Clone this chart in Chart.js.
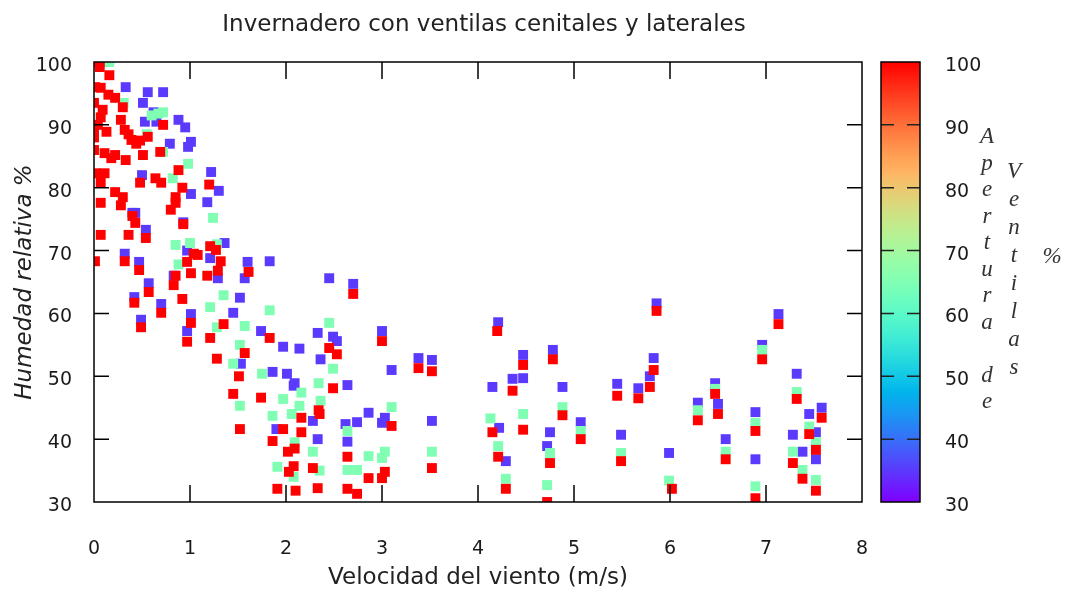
<!DOCTYPE html>
<html>
<head>
<meta charset="utf-8">
<script src="https://cdn.jsdelivr.net/npm/chart.js@4.4.1/dist/chart.umd.min.js"></script>
<style>
  body { margin: 0; background: #fff; }
  canvas { display: block; }
</style>
</head>
<body>
<canvas id="chart-humedad" width="1069" height="594"></canvas>
<script>
// datos: [velocidad m/s, humedad %]
const rojo100 = [
  [0,100],[0.06,99.2],[0.02,100],[0.16,97.9],[0.01,96],[0.07,95.9],[0,93.5],[0.15,94.8],[0.22,94.3],[0.3,92.8],
  [0.09,92.4],[0,89.5],[0.07,91.2],[0.04,90],[0,88],[0.13,88.9],[0.28,90.8],[0.32,89.2],[0.36,88.5],[0.39,87.6],
  [0.44,87],[0.48,87.5],[0.56,88.1],[0,86],[0.11,85.5],[0.18,84.7],[0.22,85.2],[0.33,84.4],[0.51,85.2],[0.69,85.7],
  [0.72,90],[0.88,82.8],[0.02,82.3],[0.11,82.3],[0.07,80.9],[0.22,79.3],[0.48,80.8],[0.64,81.5],[0.7,80.8],[0.92,80],
  [0.3,78.5],[0.85,78.5],[0.07,77.6],[0.28,77.2],[0.8,76.5],[0.85,77.6],[0.43,74.4],[0.4,75.5],[0.07,72.5],[0.36,72.5],
  [0.54,72],[0.93,74.2],[0.01,68.3],[0.32,68.3],[0.47,66.9],[0.57,63.4],[0.97,68.2],[1.01,66.4],[0.85,66],[0.83,64.5],
  [0.92,62.3],[0.42,61.7],[0.7,60.1],[0.49,57.8],[1.01,58.5],[0.97,55.5],[1.04,69.5],
  [1.2,80.5],[1.21,70.7],[1.27,70.1],[1.08,69.3],[1.32,68.3],[1.18,66],[1.29,66.8],[1.61,66.6],[1.35,58.3],[1.21,56.1],
  [1.83,56.1],[1.28,52.8],[1.57,53.7],[1.51,50],[1.45,47.2],[1.74,46.6],[1.52,41.6],[1.97,41.6],[1.86,39.7],[2.02,38],
  [2.09,38.5],[2.03,34.8],[2.08,35.7],[1.91,32.1],[2.1,31.8],[2.16,41.1],
  [2.7,63.1],[3.0,55.6],[3.38,51.3],[3.52,50.8],[2.45,54.5],[2.53,53.5],[2.49,48.1],[2.16,43.4],[2.34,44.6],[2.35,44],
  [3.1,42.1],[2.28,35.4],[2.64,37.2],[2.33,32.2],[2.64,32.1],[2.74,31.3],[2.86,33.8],[3.0,33.8],[3.03,34.8],[3.52,35.4],
  [4.2,57.2],[4.47,51.8],[4.36,47.7],[4.15,41.1],[4.21,37.2],[4.29,32.1],[4.47,41.5],[4.78,52.7],[4.75,36.2],[4.72,30],
  [4.88,43.8],[5.07,40],[5.45,46.9],[5.49,36.5],[5.67,46.5],[5.79,48.3],[5.83,51],[5.86,60.4],[6.02,32.1],[6.29,43],
  [6.47,47.2],[6.5,44],[6.58,36.8],[6.89,41.3],[6.89,30.6],[6.96,52.7],[7.13,58.3],[7.32,46.4],[7.28,36.2],[7.38,33.7],
  [7.45,40.8],[7.52,38.3],[7.52,31.8],[7.58,43.4]
];
const verde65 = [
  [0.16,100],[0.72,92],[0.6,91.5],[0.67,91.8],[0.55,88.5],[0.98,83.8],[0.82,81.5],[0.72,85.7],[0.31,93.5],[0.85,70.9],
  [1.0,71.2],[0.88,67.8],[1.24,75.2],[1.28,71],[1.35,62.9],[1.21,61],[1.83,60.5],[1.57,58],[1.28,57.8],[1.52,55],
  [1.45,52],[1.75,50.4],[1.52,45.3],[1.97,46.4],[1.86,43.7],[1.91,35.6],[2.08,34],[2.45,58.5],[2.49,51.2],[2.34,48.9],
  [2.16,47.4],[2.14,45.3],[2.36,46.1],[2.06,44],[2.09,39.5],[2.28,38],[2.35,35],[2.64,35.1],[2.74,35.1],[2.86,37.3],
  [3.0,37],[3.03,38],[3.1,45.1],[3.52,38],[2.64,41.3],[4.13,43.3],[4.21,38.9],[4.29,33.7],[4.47,44],[4.88,45.1],
  [4.75,37.8],[4.72,32.7],[5.07,41.3],[5.49,37.8],[5.99,33.4],[6.29,44.6],[6.47,48],[6.58,38],[6.89,42.6],[6.89,32.5],
  [6.96,54.2],[7.32,47.5],[7.28,38],[7.38,35.1],[7.45,42],[7.52,39.5],[7.52,33.5]
];
const morado35 = [
  [0.1,100],[0.33,96],[0.56,95.2],[0.72,95.2],[0.51,93.5],[0.62,92],[0.88,90.8],[0.95,89.6],[0.53,90.5],[0.65,90.5],
  [1.01,87.3],[0.79,87],[0.98,86.5],[0.5,82],[1.01,79],[0.4,76],[0.43,76],[0.54,73.3],[0.32,69.5],[0.47,68.2],
  [0.57,64.8],[0.42,62.6],[0.7,61.5],[0.49,59],[1.01,59.9],[0.97,57.2],[0.97,70],[0.83,66],[0.93,74.5],[1.22,82.5],
  [1.3,79.5],[1.18,77.7],[1.36,71.2],[1.21,68.8],[1.29,65.6],[1.6,68.2],[1.83,68.3],[1.57,65.6],[1.52,62.5],[1.45,60.1],
  [1.74,57.2],[1.97,54.7],[2.14,54.4],[1.53,52],[1.86,50.7],[2.01,50.4],[2.08,48.5],[1.9,41.6],
  [2.45,65.6],[2.7,64.7],[3.0,57.2],[3.38,52.9],[3.52,52.6],[2.33,56.9],[2.49,56.3],[2.53,55.6],[2.36,52.7],[2.09,48.9],
  [2.64,48.6],[3.1,51],[2.86,44.2],[2.74,42.7],[2.62,42.4],[2.28,42.9],[3.0,42.6],[3.03,43.4],[3.52,42.9],[2.33,40],
  [2.64,39.6],
  [4.21,58.6],[4.47,53.4],[4.36,49.6],[4.47,49.7],[4.15,48.3],[4.22,41.8],[4.29,36.5],[4.78,54.2],[4.88,48.3],[4.75,41.1],
  [4.72,38.9],[5.07,42.7],[5.45,48.8],[5.49,40.7],[5.67,48.1],[5.79,50],[5.83,52.9],[5.86,61.6],[5.99,37.8],[6.29,45.8],
  [6.47,48.9],[6.5,45.6],[6.58,40],[6.89,44.3],[6.89,36.8],[6.96,55],[7.13,59.9],[7.32,50.4],[7.28,40.7],[7.38,38],
  [7.45,44],[7.52,41.1],[7.52,36.8],[7.58,45]
];
const aperturas = [100, 65, 35];   // % de apertura de cada serie
const ticksVelocidad = [0, 1, 2, 3, 4, 5, 6, 7, 8];
const ticksHumedad = [30, 40, 50, 60, 70, 80, 90, 100];
const ticksApertura = [30, 40, 50, 60, 70, 80, 90, 100];
const titulo = 'Invernadero con ventilas cenitales y laterales';

// paleta tipo gnuplot rgbformulae 33,13,10
function paleta(f) {
  const c = v => Math.round(Math.max(0, Math.min(1, v)) * 255);
  return `rgb(${c(Math.abs(2 * f - 0.5))},${c(Math.sin(Math.PI * f))},${c(Math.cos(Math.PI * f / 2))})`;
}
function colorApertura(v) {
  return paleta((v - 30) / 70);
}

const fuente = "'DejaVu Sans', sans-serif";
const negro = '#1a1a1a';

// titulo, marco y ticks hacia dentro
const marco = {
  id: 'marco',
  afterDatasetsDraw(chart) {
    const {ctx, chartArea: a, scales} = chart;
    ctx.save();
    ctx.strokeStyle = '#000';
    ctx.lineWidth = 1.5;
    ctx.beginPath();
    ticksVelocidad.forEach(v => {
      const px = scales.x.getPixelForValue(v);
      if (px <= a.left + 1 || px >= a.right - 1) return;
      ctx.moveTo(px, a.bottom); ctx.lineTo(px, a.bottom - 17);
      ctx.moveTo(px, a.top); ctx.lineTo(px, a.top + 17);
    });
    ticksHumedad.forEach(v => {
      const py = scales.y.getPixelForValue(v);
      if (py <= a.top + 1 || py >= a.bottom - 1) return;
      ctx.moveTo(a.left, py); ctx.lineTo(a.left + 15, py);
      ctx.moveTo(a.right, py); ctx.lineTo(a.right - 15, py);
    });
    ctx.stroke();
    ctx.strokeRect(a.left, a.top, a.right - a.left, a.bottom - a.top);

    ctx.fillStyle = '#222';
    ctx.font = "23px " + fuente;
    ctx.textAlign = 'center';
    ctx.textBaseline = 'middle';
    ctx.fillText(titulo, 484, 25);
    ctx.restore();
  }
};

// barra de color y su etiqueta en letras apiladas
const barraColor = {
  id: 'barraColor',
  afterDraw(chart) {
    const {ctx, chartArea: a, scales} = chart;
    const cb = scales.cb;
    const x0 = a.right + 19, w = 39;
    const yTop = cb.getPixelForValue(100), yBot = cb.getPixelForValue(30);
    ctx.save();
    const g = ctx.createLinearGradient(0, yBot, 0, yTop);
    for (let i = 0; i <= 40; i++) {
      g.addColorStop(i / 40, paleta(i / 40));
    }
    ctx.fillStyle = g;
    ctx.fillRect(x0, yTop, w, yBot - yTop);
    ctx.strokeStyle = '#222';
    ctx.lineWidth = 1.5;
    ctx.beginPath();
    ticksApertura.forEach(v => {
      if (v === 30 || v === 100) return;
      const py = cb.getPixelForValue(v);
      ctx.moveTo(x0, py); ctx.lineTo(x0 + 13, py);
      ctx.moveTo(x0 + w, py); ctx.lineTo(x0 + w - 13, py);
    });
    ctx.stroke();
    ctx.strokeStyle = '#000';
    ctx.strokeRect(x0, yTop, w, yBot - yTop);

    ctx.fillStyle = '#333';
    ctx.font = "italic 23px 'Liberation Serif', serif";
    ctx.textAlign = 'center';
    ctx.textBaseline = 'middle';
    const col1 = 'Apertura de', col2 = 'Ventilas';
    [...col1].forEach((ch, i) => ctx.fillText(ch, 987, 137 + i * 26.5));
    [...col2].forEach((ch, i) => ctx.fillText(ch, 1014, 172 + i * 28));
    ctx.fillText('%', 1052, 257);
    ctx.restore();
  }
};

const series = [rojo100, verde65, morado35];
const ctx = document.getElementById('chart-humedad').getContext('2d');
new Chart(ctx, {
  type: 'scatter',
  data: {
    datasets: series.map((pts, i) => ({
      label: aperturas[i] + ' %',
      data: pts.map(p => ({x: p[0], y: p[1]})),
      pointStyle: 'rect',
      pointRadius: 7,
      pointHoverRadius: 7,
      borderWidth: 0,
      backgroundColor: colorApertura(aperturas[i]),
      borderColor: colorApertura(aperturas[i]),
    })),
  },
  options: {
    responsive: false,
    animation: false,
    layout: {padding: {top: 62, left: 0, right: 0, bottom: 0}},
    plugins: {
      legend: {display: false},
      tooltip: {enabled: false},
      title: {display: false},
    },
    scales: {
      x: {
        type: 'linear', min: 0, max: 8,
        afterBuildTicks: s => { s.ticks = ticksVelocidad.map(v => ({value: v})); },
        ticks: {color: negro, font: {family: fuente, size: 19}, padding: 0},
        grid: {display: false, drawTicks: true, tickLength: 36},
        border: {display: false},
        title: {display: true, text: 'Velocidad del viento (m/s)', color: '#222',
                font: {family: fuente, size: 23}, padding: {top: 0, bottom: 2}},
        afterFit: s => { s.height = 92; },
      },
      y: {
        type: 'linear', min: 30, max: 100,
        afterBuildTicks: s => { s.ticks = ticksHumedad.map(v => ({value: v})); },
        ticks: {color: negro, font: {family: fuente, size: 19}, padding: 0, labelOffset: 4},
        grid: {display: false, drawTicks: true, tickLength: 22},
        border: {display: false},
        title: {display: true, text: 'Humedad relativa %', color: '#222',
                font: {family: fuente, size: 23, style: 'italic'}, padding: {top: 11, bottom: 0}},
        afterFit: s => { s.width = 94; },
      },
      cb: {
        type: 'linear', position: 'right', min: 30, max: 100,
        afterBuildTicks: s => { s.ticks = ticksApertura.map(v => ({value: v})); },
        ticks: {color: negro, font: {family: fuente, size: 19}, padding: 0, labelOffset: 4},
        grid: {display: false, drawTicks: true, tickLength: 83},
        border: {display: false},
        afterFit: s => { s.width = 207; },
      },
    },
  },
  plugins: [marco, barraColor],
});
</script>
</body>
</html>
